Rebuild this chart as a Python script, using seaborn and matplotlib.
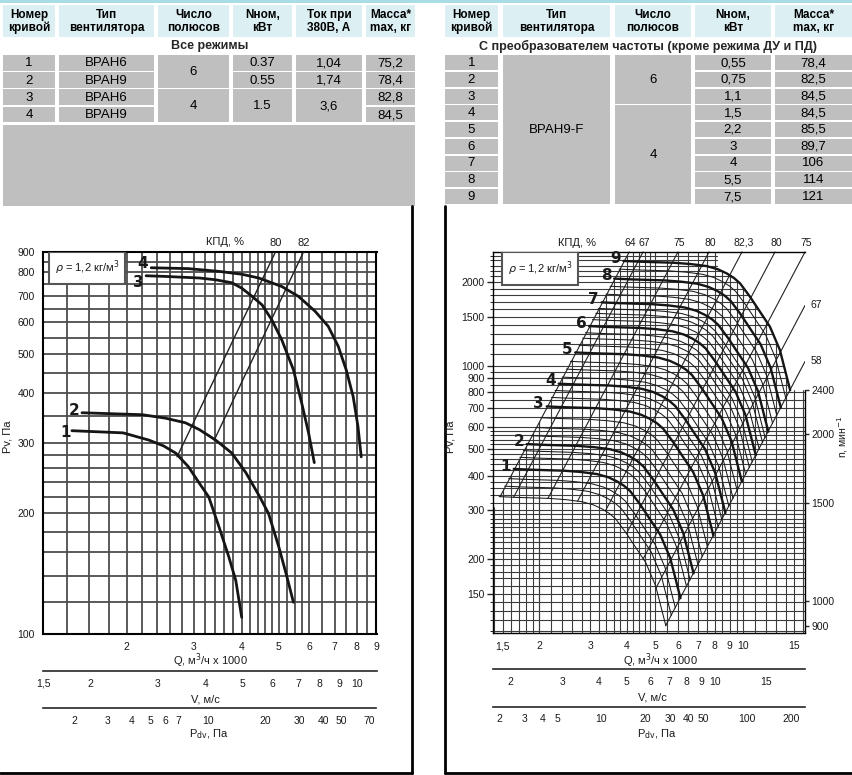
import numpy as np
import pandas as pd
import seaborn as sns
import matplotlib
matplotlib.use('Agg')
import matplotlib.pyplot as plt
from matplotlib import font_manager
from matplotlib.patches import Rectangle, Polygon
from matplotlib.ticker import NullFormatter, NullLocator

W, H = 853, 775

# ---------------- tables ----------------
left_headers = ['Номер\nкривой', 'Тип\nвентилятора', 'Число\nполюсов', 'Nном,\nкВт', 'Ток при\n380В, А', 'Масса*\nmax, кг']
left_curve = ['1', '2', '3', '4']
left_type = ['ВРАН6', 'ВРАН9', 'ВРАН6', 'ВРАН9']
left_poles = ['6', '4']
left_poles_span = [2, 2]
left_power = ['0.37', '0.55', '1.5']
left_power_span = [1, 1, 2]
left_current = ['1,04', '1,74', '3,6']
left_current_span = [1, 1, 2]
left_mass = ['75,2', '78,4', '82,8', '84,5']
left_caption = 'Все режимы'

right_headers = ['Номер\nкривой', 'Тип\nвентилятора', 'Число\nполюсов', 'Nном,\nкВт', 'Масса*\nmax, кг']
right_curve = ['1', '2', '3', '4', '5', '6', '7', '8', '9']
right_type = ['ВРАН9-F']
right_type_span = [9]
right_poles = ['6', '4']
right_poles_span = [3, 6]
right_power = ['0,55', '0,75', '1,1', '1,5', '2,2', '3', '4', '5,5', '7,5']
right_mass = ['78,4', '82,5', '84,5', '84,5', '85,5', '89,7', '106', '114', '121']
right_caption = 'С преобразователем частоты (кроме режима ДУ и ПД)'

# ---------------- left chart: Pv(Q), curves 1-4 ----------------
q1 = [1.44, 1.96, 2.29, 2.5, 2.69, 2.9, 3.1, 3.28, 3.49, 3.70, 3.86, 4.0]
p1 = [322, 318, 305, 295, 283, 262, 238, 220, 185, 156, 136, 110]
q2 = [1.53, 2.2, 2.53, 2.85, 3.1, 3.42, 3.77, 4.1, 4.46, 4.70, 5.0, 5.25, 5.46]
p2 = [357, 353, 346, 337, 324, 305, 283, 253, 220, 200, 165, 139, 120]
q3 = [2.25, 2.53, 3.10, 3.42, 3.77, 4.0, 4.26, 4.52, 4.79, 5.09, 5.46, 5.74, 5.98, 6.19]
p3 = [785, 782, 775, 767, 754, 731, 697, 664, 610, 543, 457, 377, 318, 268]
q4 = [2.32, 2.9, 3.49, 4.0, 4.43, 5.09, 5.63, 6.22, 6.73, 7.15, 7.5, 7.82, 8.05, 8.21]
p4 = [822, 818, 805, 792, 775, 738, 697, 640, 587, 523, 457, 392, 330, 277]
left_names = ['1', '2', '3', '4']

# КПД lines on the left chart (lower end on a curve, upper end at the top edge)
eff_left_names = ['80', '82']
eff_left_q = [[2.71, 4.9], [3.39, 5.8]]
eff_left_p = [[277, 900], [305, 900]]

# ---------------- right chart: ВРАН9-F with frequency converter ----------------
# curve 9 read at 2400 rpm, the other speeds follow the fan laws
base_n = 2400
base_q = [3.89, 4.44, 5.77, 6.6, 7.5, 8.2, 8.78, 9.3, 9.76, 10.56, 11.42, 12.36, 13.37, 14.5]
base_p = [2390, 2375, 2355, 2330, 2290, 2230, 2156, 2075, 1984, 1775, 1567, 1383, 1139, 815]
bold_n = [1010, 1120, 1310, 1440, 1640, 1830, 2020, 2230, 2400]
thin_n = [900, 940, 970, 1060, 1090, 1160, 1200, 1250, 1360, 1400, 1480, 1530, 1580,
          1690, 1740, 1780, 1880, 1930, 1970, 2090, 2160, 2320]
right_names = ['1', '2', '3', '4', '5', '6', '7', '8', '9']

eff_top_names = ['64', '67', '75', '80', '82,3', '80', '75']
eff_top_q = [4.07, 4.54, 5.98, 7.64, 9.91, 12.86, 16.3]
eff_side_names = ['67', '58']
eff_side_p = [1650, 1035]

n_ticks = [900, 1000, 1500, 2000, 2400]

# scales under the charts
rho = 1.2
duct_area = 0.222  # m2, V = Q / area
v_major_left = [1.5, 2, 3, 4, 5, 6, 7, 8, 9, 10]
v_minor_left = [1.6, 1.7, 1.8, 1.9, 2.2, 2.4, 2.6, 2.8, 3.2, 3.4, 3.6, 3.8, 4.2, 4.4, 4.6, 4.8,
                5.5, 6.5, 7.5, 8.5, 9.5, 11]
pd_major_left = [2, 3, 4, 5, 6, 7, 10, 20, 30, 40, 50, 70]
pd_minor_left = [1.5, 2.5, 3.5, 4.5, 8, 9, 15, 25, 35, 45, 60]
v_major_right = [2, 3, 4, 5, 6, 7, 8, 9, 10, 15]
v_minor_right = [1.8, 1.9, 2.2, 2.4, 2.6, 2.8, 3.2, 3.4, 3.6, 3.8, 4.2, 4.4, 4.6, 4.8, 5.5, 6.5,
                 7.5, 8.5, 9.5, 11, 12, 13, 14, 16, 17, 18, 19, 20]
pd_major_right = [2, 3, 4, 5, 10, 20, 30, 40, 50, 100, 200]
pd_minor_right = [2.5, 3.5, 4.5, 6, 7, 8, 9, 15, 25, 35, 45, 60, 70, 80, 90, 150]

# ---------------- style ----------------
sns.set_style('white')
names = {f.name for f in font_manager.fontManager.ttflist}
narrow = 'Liberation Sans Narrow' if 'Liberation Sans Narrow' in names else 'Liberation Sans'
plt.rcParams['font.family'] = [narrow, 'DejaVu Sans']
plt.rcParams['mathtext.fontset'] = 'dejavusans'

GRAY = '#bfbfbf'
HEAD = '#dcf0f4'
TXT = '#1a1a1a'

fig = plt.figure(figsize=(W / 100, H / 100), dpi=100)


def px_axes(x0, y0, x1, y1):
    return fig.add_axes([x0 / W, 1 - y1 / H, (x1 - x0) / W, (y1 - y0) / H])


bg = fig.add_axes([0, 0, 1, 1])
bg.set_xlim(0, W)
bg.set_ylim(H, 0)
bg.axis('off')


def cell(x0, x1, y0, y1, color, text=None, **kw):
    bg.add_patch(Rectangle((x0, y0), x1 - x0, y1 - y0, facecolor=color, edgecolor='none'))
    if text is not None:
        bg.text((x0 + x1) / 2, (y0 + y1) / 2 + 0.5, text, ha='center', va='center', color='black', **kw)


def draw_table(cols, headers, columns, row_top, pitch, row_h, caption, cap_x):
    for (x0, x1), head in zip(cols, headers):
        cell(x0, x1, 5, 37, HEAD, head, fontsize=8.5, fontweight='bold', linespacing=1.05)
    for (x0, x1), (vals, spans) in zip(cols, columns):
        r = 0
        for v, s in zip(vals, spans):
            y0 = row_top + pitch * r
            y1 = row_top + pitch * (r + s - 1) + row_h
            cell(x0, x1, y0, y1, GRAY, v, fontsize=9.5, family=['Liberation Sans', 'DejaVu Sans'])
            r += s
    bg.text(cap_x, 46, caption, ha='center', va='center', fontsize=9, fontweight='bold',
            family=['Liberation Sans', 'DejaVu Sans'])


bg.add_patch(Rectangle((0, 0), W, 3, facecolor='#a9dde5', edgecolor='none'))

left_cols = [(3, 55), (59, 154), (158, 229), (233, 292), (296, 362), (366, 415)]
ones4 = [1] * 4
draw_table(left_cols, left_headers,
           [(left_curve, ones4), (left_type, ones4), (left_poles, left_poles_span),
            (left_power, left_power_span), (left_current, left_current_span), (left_mass, ones4)],
           55, 17.2, 15.8, left_caption, 210)
bg.add_patch(Rectangle((3, 124.5), 412, 81, facecolor=GRAY, edgecolor='none'))

right_cols = [(445, 498), (503, 610), (615, 691), (695, 771), (775, 852)]
ones9 = [1] * 9
draw_table(right_cols, right_headers,
           [(right_curve, ones9), (right_type, right_type_span), (right_poles, right_poles_span),
            (right_power, ones9), (right_mass, ones9)],
           55, 16.75, 15, right_caption, 648)

# panel frames
bg.plot([412, 412], [206, 773], color='black', lw=2)
bg.plot([0, 412], [773, 773], color='black', lw=2)
bg.plot([445, 445], [206, 773], color='black', lw=2)
bg.plot([445, W], [773, 773], color='black', lw=2)


def ftext(x, y, s, **kw):
    kw.setdefault('fontsize', 8)
    kw.setdefault('color', TXT)
    bg.text(x, y, s, ha='center', va='center', **kw)


def scale_axis(y_px, x0, x1, lim, major, labels, minor):
    a = px_axes(x0, y_px - 1, x1, y_px)
    a.set_xscale('log')
    a.set_xlim(lim)
    a.set_yticks([])
    for s in ['left', 'right', 'top']:
        a.spines[s].set_visible(False)
    a.spines['bottom'].set_linewidth(1.2)
    a.set_xticks(major, labels)
    a.set_xticks(minor, minor=True)
    a.xaxis.set_minor_formatter(NullFormatter())
    a.tick_params(axis='x', which='major', direction='out', length=4, width=1, labelsize=7.5,
                  pad=1.5, labelcolor=TXT)
    a.tick_params(axis='x', which='minor', direction='out', length=2.5, width=0.8)
    a.patch.set_visible(False)
    return a


def fmt(v):
    return ('%g' % v).replace('.', ',')


def v_of_q(q):
    return q * 1000 / 3600 / duct_area


def pdv_of_q(q):
    return rho * v_of_q(q) ** 2 / 2


# ================= left chart =================
L_X, L_Y = (1.21, 9.0), (100, 900)
axL = px_axes(43, 252, 376.5, 634)
axL.set_xscale('log')
axL.set_yscale('log')
axL.set_xlim(L_X)
axL.set_ylim(L_Y)

grid_q_left = np.concatenate([np.arange(1.4, 5.0, 0.2), np.arange(5.0, 6.0, 0.25), np.arange(6.0, 9.01, 0.5)])
grid_p_left = np.concatenate([np.arange(100, 300, 20), np.arange(300, 901, 50)])
axL.vlines(grid_q_left, L_Y[0], L_Y[1], color='#4d4d4d', lw=1.3, zorder=1)
axL.hlines(grid_p_left, L_X[0], L_X[1], color='#4d4d4d', lw=1.3, zorder=1)

rows = []
for name, qs, ps in zip(left_names, [q1, q2, q3, q4], [p1, p2, p3, p4]):
    rows += [dict(curve=name, q=q, p=p) for q, p in zip(qs, ps)]
df_left = pd.DataFrame(rows)
sns.lineplot(data=df_left, x='q', y='p', units='curve', estimator=None, sort=False,
             color='#151515', lw=2.0, ax=axL, legend=False, zorder=4)

label_offsets_left = [(-1, -1), (-2, 1.5), (-2, -4.5), (-2, 3)]
for name, qs, ps, off in zip(left_names, [q1, q2, q3, q4], [p1, p2, p3, p4], label_offsets_left):
    axL.annotate(name, (qs[0], ps[0]), xytext=off, textcoords='offset points', ha='right',
                 va='center', fontsize=11, fontweight='bold', family='DejaVu Sans', color=TXT)

for name, qs, ps in zip(eff_left_names, eff_left_q, eff_left_p):
    axL.plot(qs, ps, color='#222222', lw=1.0, zorder=3)
    axL.annotate(name, (qs[1], ps[1]), xytext=(0, 3), textcoords='offset points', ha='center',
                 va='bottom', fontsize=8, color=TXT, annotation_clip=False)

for s in axL.spines.values():
    s.set_linewidth(1.5)
    s.set_color('black')
axL.set_xticks([2, 3, 4, 5, 6, 7, 8, 9], [fmt(v) for v in [2, 3, 4, 5, 6, 7, 8, 9]])
axL.set_yticks(np.arange(100, 901, 100), [str(v) for v in range(100, 901, 100)])
axL.xaxis.set_minor_locator(NullLocator())
axL.yaxis.set_minor_locator(NullLocator())
axL.tick_params(direction='out', length=4, width=1, labelsize=7.5, pad=2, labelcolor=TXT)
axL.set_xlabel('')
axL.set_ylabel('')

axL.add_patch(Rectangle((0.018, 0.916), 0.228, 0.084, transform=axL.transAxes, facecolor='white',
                        edgecolor='#555555', lw=1.5, zorder=6))
axL.text(0.132, 0.958, r'$\rho$ = 1,2 кг/м$^3$', transform=axL.transAxes, ha='center', va='center',
         fontsize=8, color=TXT, zorder=7)

scale_axis(671, 43, 376.5, (v_of_q(L_X[0]), v_of_q(L_X[1])), v_major_left,
           [fmt(v) for v in v_major_left], v_minor_left)
scale_axis(708, 43, 376.5, (pdv_of_q(L_X[0]), pdv_of_q(L_X[1])), pd_major_left,
           [fmt(v) for v in pd_major_left], pd_minor_left)

ftext(225, 242, 'КПД, %')
ftext(210, 661, 'Q, м$^3$/ч x 1000')
ftext(205, 699, 'V, м/с')
ftext(209, 734, 'P$_{\\mathrm{dv}}$, Па')
ftext(8, 437, 'Pv, Па', rotation=90)

# ================= right chart =================
R_X, R_Y = (1.39, 16.3), (108, 2575)
axR = px_axes(493, 252, 805, 633)
axR.set_xscale('log')
axR.set_yscale('log')
axR.set_xlim(R_X)
axR.set_ylim(R_Y)

q_cut = 8.2
tail = [(q, p) for q, p in zip(base_q, base_p) if q >= q_cut][::-1]
k64 = R_Y[1] / eff_top_q[0] ** 2
h_verts = [(R_X[0], R_Y[0]), (R_X[1], R_Y[0]), (R_X[1], base_p[-1])] + tail + \
          [(q_cut, R_Y[1] * 1.02), (R_X[0], R_Y[1] * 1.02)]
v_verts = [(R_X[0], R_Y[0]), (R_X[1], R_Y[0]), (R_X[1], base_p[-1])] + tail + \
          [(q_cut, R_Y[1] * 1.02), (eff_top_q[0] * 1.01, R_Y[1] * 1.02), (R_X[0], k64 * R_X[0] ** 2)]
h_clip = Polygon(h_verts, closed=True, transform=axR.transData)
v_clip = Polygon(v_verts, closed=True, transform=axR.transData)

grid_q_right = np.concatenate([np.arange(1.4, 2.0, 0.1), np.arange(2.0, 5.0, 0.2),
                               np.arange(5.0, 10.0, 0.5), np.arange(10, 17, 1.0)])
grid_p_right = np.concatenate([np.arange(110, 300, 10), np.arange(300, 600, 20),
                               np.arange(600, 1000, 50), np.arange(1000, 2600, 100)])
vl = axR.vlines(grid_q_right, R_Y[0], R_Y[1], color='#3c3c3c', lw=0.8, zorder=1)
vl.set_clip_path(v_clip)
hl = axR.hlines(grid_p_right, R_X[0], R_X[1], color='#3c3c3c', lw=0.8, zorder=1)
hl.set_clip_path(h_clip)

rows = []
for n in thin_n + bold_n:
    r = n / base_n
    rows += [dict(n=n, q=q * r, p=p * r * r, bold=n in bold_n) for q, p in zip(base_q, base_p)]
df_right = pd.DataFrame(rows)
sns.lineplot(data=df_right[~df_right.bold], x='q', y='p', units='n', estimator=None, sort=False,
             color='#1a1a1a', lw=0.75, ax=axR, legend=False, zorder=3)
sns.lineplot(data=df_right[df_right.bold], x='q', y='p', units='n', estimator=None, sort=False,
             color='#151515', lw=1.7, ax=axR, legend=False, zorder=4)

for name, n in zip(right_names, bold_n):
    r = n / base_n
    axR.annotate(name, (base_q[0] * r, base_p[0] * r * r), xytext=(-2, 2), textcoords='offset points',
                 ha='right', va='center', fontsize=11, fontweight='bold', family='DejaVu Sans', color=TXT)

# КПД lines: straight P ~ Q^2 lines from the slowest curve to the chart edge
base_k = np.array(base_p) / np.array(base_q) ** 2
r_min = min(thin_n + bold_n) / base_n


def low_end(k):
    q_on = np.exp(np.interp(np.log(k), np.log(base_k)[::-1], np.log(base_q)[::-1]))
    return q_on * r_min, k * q_on ** 2 * r_min ** 2


for name, qt in zip(eff_top_names, eff_top_q):
    k = R_Y[1] / qt ** 2
    ql, pl = low_end(k)
    axR.plot([ql, qt], [pl, R_Y[1]], color='#222222', lw=0.8, zorder=2, clip_on=False)
    axR.annotate(name, (qt, R_Y[1]), xytext=(1, 3), textcoords='offset points', ha='center',
                 va='bottom', fontsize=7.5, color=TXT, annotation_clip=False)
for name, ps in zip(eff_side_names, eff_side_p):
    k = ps / R_X[1] ** 2
    ql, pl = low_end(k)
    axR.plot([ql, R_X[1]], [pl, ps], color='#222222', lw=0.8, zorder=2)
    axR.annotate(name, (R_X[1], ps), xytext=(4, 0), textcoords='offset points', ha='left',
                 va='center', fontsize=7.5, color=TXT, annotation_clip=False)

for s in ['left', 'top', 'bottom']:
    axR.spines[s].set_linewidth(1.0)
    axR.spines[s].set_color('black')
axR.spines['right'].set_visible(False)
frac = np.log(base_p[-1] / R_Y[0]) / np.log(R_Y[1] / R_Y[0])
axR.axvline(R_X[1], ymin=0, ymax=frac, color='black', lw=1.0, clip_on=False)

q_major_right = [1.5, 2, 3, 4, 5, 6, 7, 8, 9, 10, 15]
p_major_right = [150, 200, 300, 400, 500, 600, 700, 800, 900, 1000, 1500, 2000]
axR.set_xticks(q_major_right, [fmt(v) for v in q_major_right])
axR.set_yticks(p_major_right, [str(v) for v in p_major_right])
axR.set_xticks(grid_q_right, minor=True)
axR.set_yticks(grid_p_right, minor=True)
axR.xaxis.set_minor_formatter(NullFormatter())
axR.yaxis.set_minor_formatter(NullFormatter())
axR.tick_params(which='major', direction='out', length=4, width=1, labelsize=7.5, pad=2, labelcolor=TXT)
axR.tick_params(which='minor', direction='out', length=2.5, width=0.7)
axR.set_xlabel('')
axR.set_ylabel('')

axN = axR.twinx()
axN.set_yscale('log')
axN.set_ylim(base_n * np.sqrt(R_Y[0] / base_p[-1]), base_n * np.sqrt(R_Y[1] / base_p[-1]))
axN.set_yticks(n_ticks, [str(v) for v in n_ticks])
axN.yaxis.set_minor_locator(NullLocator())
for s in axN.spines.values():
    s.set_visible(False)
axN.tick_params(direction='out', length=3, width=1, labelsize=7.5, pad=1.5, labelcolor=TXT)

axR.add_patch(Rectangle((0.028, 0.913), 0.245, 0.087, transform=axR.transAxes, facecolor='white',
                        edgecolor='#555555', lw=1.5, zorder=6))
axR.text(0.15, 0.957, r'$\rho$ = 1,2 кг/м$^3$', transform=axR.transAxes, ha='center', va='center',
         fontsize=8, color=TXT, zorder=7)

scale_axis(669, 493, 805, (v_of_q(R_X[0]), v_of_q(R_X[1])), v_major_right,
           [fmt(v) for v in v_major_right], v_minor_right)
scale_axis(706.5, 493, 805, (pdv_of_q(R_X[0]), pdv_of_q(R_X[1])), pd_major_right,
           [fmt(v) for v in pd_major_right], pd_minor_right)

ftext(577, 243, 'КПД, %')
ftext(660, 661, 'Q, м$^3$/ч x 1000')
ftext(652, 698, 'V, м/с')
ftext(657, 734, 'P$_{\\mathrm{dv}}$, Па')
ftext(451, 437, 'Pv, Па', rotation=90)
ftext(843, 437, 'n, мин$^{-1}$', rotation=90, fontsize=7.5)

fig.savefig('out.png', dpi=100)
